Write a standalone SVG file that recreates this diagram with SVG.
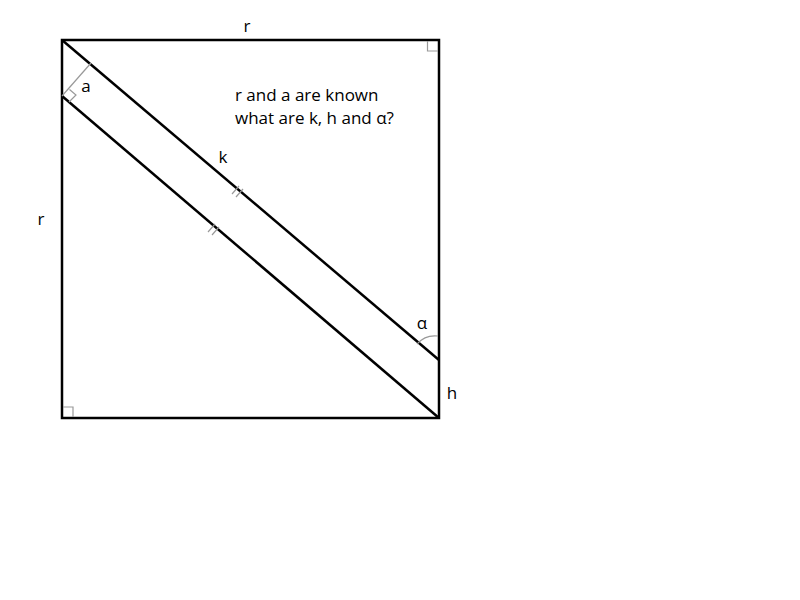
<svg xmlns="http://www.w3.org/2000/svg" width="800" height="600" viewBox="0 0 800 600">
<style>
.main{fill:none;stroke:#000;stroke-width:2.5}
.aux{fill:none;stroke:#999;stroke-width:1.2}
.lbl{font-family:"Open Sans","DejaVu Sans",sans-serif;font-size:17px;fill:#000}
</style>
<rect width="800" height="600" fill="#fff"/>
<g id="square"><rect class="main" x="62" y="40" width="377" height="378"/></g>
<g id="connectors">
<line class="main" x1="62" y1="40" x2="439" y2="360"/>
<line class="main" x1="62" y1="96" x2="439" y2="418"/>
<line class="aux" x1="62" y1="96" x2="91" y2="63"/>
</g>
<g id="markers">
<polyline class="aux" points="427.5,41 427.5,51 438,51"/>
<polyline class="aux" points="63,407 73,407 73,417"/>
<polyline class="aux" points="69,102 76,95 69.5,89.5"/>
<path class="aux" d="M417,344 A24,24 0 0 1 438,336"/>
<line class="aux" x1="232" y1="194" x2="239" y2="186"/>
<line class="aux" x1="236" y1="197" x2="243" y2="189"/>
<line class="aux" x1="208" y1="232" x2="215" y2="224"/>
<line class="aux" x1="212" y1="235" x2="219" y2="227"/>
</g>
<g id="labels">
<text class="lbl" x="247" y="32" text-anchor="middle">r</text>
<text class="lbl" x="41" y="225" text-anchor="middle">r</text>
<text class="lbl" x="223" y="163" text-anchor="middle">k</text>
<text class="lbl" x="452" y="399" text-anchor="middle">h</text>
<text class="lbl" x="86" y="92" text-anchor="middle">a</text>
<text class="lbl" x="422" y="329" text-anchor="middle">α</text>
<text class="lbl" x="235" y="101">r and a are known</text>
<text class="lbl" x="235" y="124">what are k, h and α?</text>
</g>
</svg>
